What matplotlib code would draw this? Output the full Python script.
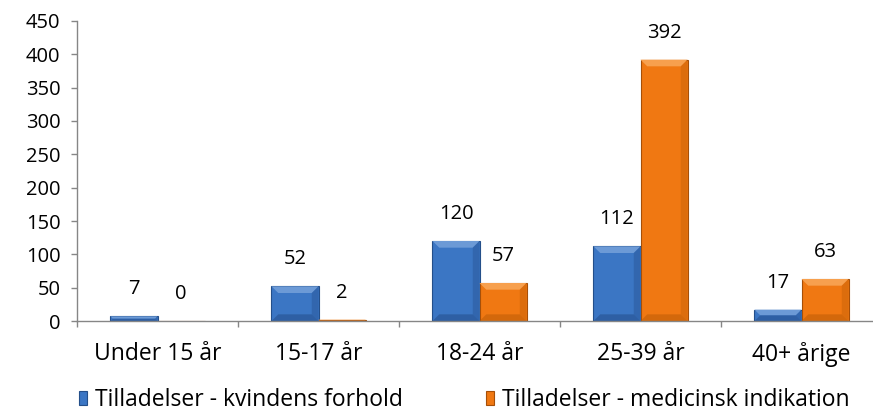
import numpy as np
import matplotlib.pyplot as plt
from matplotlib.patches import Polygon
from matplotlib.ticker import FixedLocator

categories = ['Under 15 år', '15-17 år', '18-24 år', '25-39 år', '40+ årige']
kvindens = [7, 52, 120, 112, 17]
medicinsk = [0, 2, 57, 392, 63]
labels = ['Tilladelser - kvindens forhold', 'Tilladelser - medicinsk indikation']

plt.rcParams['font.family'] = ['Open Sans', 'DejaVu Sans']
fs_num = 14.5
fs_txt = 16.5

fig = plt.figure(figsize=(8.73, 4.19), dpi=100)
ax = fig.add_axes([77 / 873, 98 / 419, 805 / 873, 300 / 419])

x = np.arange(len(categories))
w = 0.292
b1 = ax.bar(x - w / 2, kvindens, w, color='#3b76c4', edgecolor='#244f8a', linewidth=0.8, label=labels[0])
b2 = ax.bar(x + w / 2, medicinsk, w, color='#f07812', edgecolor='#a64f08', linewidth=0.8, label=labels[1])


def bevel(bars, light, dark):
    # simple Excel-like bevel: lighter top, darker sides/bottom
    bx = 0.042
    by = 10.0
    for r in bars:
        x0, x1 = r.get_x(), r.get_x() + r.get_width()
        h = r.get_height()
        if h <= 0:
            continue
        d = min(by, h / 2)
        dx = bx * d / by
        ax.add_patch(Polygon([(x0, h), (x1, h), (x1 - dx, h - d), (x0 + dx, h - d)],
                             closed=True, color=light, lw=0, zorder=2.5))
        ax.add_patch(Polygon([(x0, 0), (x1, 0), (x1 - dx, d), (x0 + dx, d)],
                             closed=True, color=dark, lw=0, alpha=0.5, zorder=2.5))
        ax.add_patch(Polygon([(x1, 0), (x1, h), (x1 - dx, h - d), (x1 - dx, d)],
                             closed=True, color=dark, lw=0, alpha=0.35, zorder=2.5))


bevel(b1, '#6c9ad6', '#224a85')
bevel(b2, '#f7a04e', '#b85a06')

for bars, vals in [(b1, kvindens), (b2, medicinsk)]:
    for r, v in zip(bars, vals):
        ax.annotate(str(v), (r.get_x() + r.get_width() / 2, v), xytext=(0, 17),
                    textcoords='offset pixels', ha='center', va='bottom', fontsize=fs_num)

ax.set_xlim(-0.5, len(categories) - 0.5)
ax.set_ylim(0, 450)
ax.set_yticks(np.arange(0, 451, 50))
ax.set_xticks(x)
ax.set_xticklabels(categories)
ax.xaxis.set_minor_locator(FixedLocator(np.arange(-0.5, len(categories), 1.0)))
ax.tick_params(axis='x', which='major', length=0, pad=15, labelsize=fs_txt)
ax.tick_params(axis='x', which='minor', length=4, width=1, color='#868686')
ax.tick_params(axis='y', length=4, width=1, color='#868686', pad=8, labelsize=fs_num)

for s in ['top', 'right']:
    ax.spines[s].set_visible(False)
for s in ['left', 'bottom']:
    ax.spines[s].set_color('#868686')
    ax.spines[s].set_linewidth(1)

fig.legend(loc='center', bbox_to_anchor=(0.532, 0.045), ncol=2, frameon=False,
           fontsize=fs_txt, handlelength=0.35, handleheight=0.55, handletextpad=0.35,
           columnspacing=3.6)

fig.savefig('out.png', dpi=100)
